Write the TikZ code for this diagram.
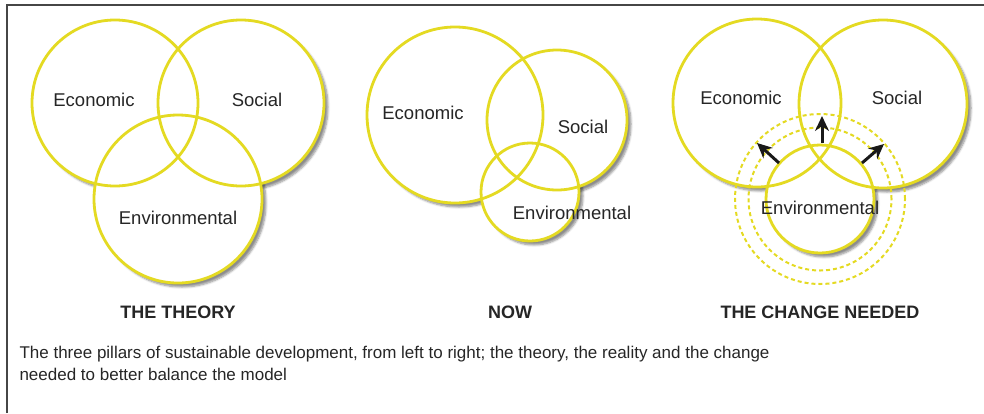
\documentclass[tikz,border=0pt]{standalone}
\usepackage{fontspec}
\setmainfont{Liberation Sans}
\usepackage{xcolor}
\usepackage{tikz}
\usetikzlibrary{calc, arrows.meta, shadows.blur}

\definecolor{pillaryellow}{RGB}{228,218,34}
\definecolor{framegray}{RGB}{70,70,70}

\tikzset{
  pillar/.style={circle, inner sep=0pt, draw=pillaryellow, line width=2.8pt, minimum size=#1},
  ring/.style={circle, inner sep=0pt, draw=pillaryellow, line width=2pt, dash pattern=on 4pt off 3pt, minimum size=#1},
  label/.style={font=\fontsize{18.5}{20}\selectfont, text=black!85},
  title/.style={font=\fontsize{18}{20}\selectfont\bfseries, text=black!85},
  push/.style={line width=3pt, black!90, -{Stealth[length=15pt, width=14pt, inset=5pt]}}
}

\begin{document}
\begin{tikzpicture}[x=1pt, y=-1pt]
\useasboundingbox (0,0) rectangle (984,413);
\draw [framegray, line width=1.3pt] (7,413) -- (7,5) -- (984,5);

% shadows and white discs first
\foreach \cx/\cy/\r in {115/103/83, 241/103/83, 178/199/84,
                        455/115/88, 557/120/70, 530/192/49,
                        757/103/84, 883/104/84, 820/199/54}
  \path [blur shadow={shadow xshift=4pt, shadow yshift=-4pt, shadow blur steps=6, shadow opacity=45}] (\cx,\cy) circle [radius=\r pt];
\foreach \cx/\cy/\r in {115/103/83, 241/103/83, 178/199/84,
                        455/115/88, 557/120/70, 530/192/49,
                        757/103/84, 883/104/84, 820/199/54}
  \fill [white] (\cx,\cy) circle [radius=\r pt];

% the theory
\node [pillar=166pt] (ecoT) at (115,103) {};
\node [pillar=166pt] (socT) at (241,103) {};
\node [pillar=168pt] (envT) at (178,199) {};
\node [label] (ecoTl) at (94,100) {Economic};
\node [label] (socTl) at (257,100) {Social};
\node [label] (envTl) at (178,218) {Environmental};
\node [title] (theory) at (178,312) {THE THEORY};

% now
\node [pillar=176pt] (ecoN) at (455,115) {};
\node [pillar=140pt] (socN) at (557,120) {};
\node [pillar=98pt] (envN) at (530,192) {};
\node [label] (ecoNl) at (423,113) {Economic};
\node [label] (socNl) at (583,127) {Social};
\node [label] (envNl) at (572,213) {Environmental};
\node [title] (now) at (510,312) {NOW};

% the change needed
\node [ring=170pt] (ringO) at (820,199) {};
\node [ring=143pt] (ringI) at (820,199) {};
\node [pillar=168pt] (ecoC) at (757,103) {};
\node [pillar=168pt] (socC) at (883,104) {};
\node [pillar=108pt] (envC) at (820,199) {};
\node [label] (ecoCl) at (741,98) {Economic};
\node [label] (socCl) at (897,98) {Social};
\node [label] (envCl) at (820,208) {Environmental};
\node [title] (change) at (820,312) {THE CHANGE NEEDED};

\coordinate (upA) at (822,143);
\coordinate (upB) at (822,116);
\coordinate (leftA) at (779,163);
\coordinate (leftB) at (757,143);
\coordinate (rightA) at (862,163);
\coordinate (rightB) at (884,144);
\draw [push] (upA) -- (upB);
\draw [push] (leftA) -- (leftB);
\draw [push] (rightA) -- (rightB);

\node [font=\fontsize{17}{22}\selectfont, text=black!85, align=left, anchor=base west] (caption) at (16,380)
  {The three pillars of sustainable development, from left to right; the theory, the reality and the change\\
   needed to better balance the model};
\end{tikzpicture}
\end{document}
